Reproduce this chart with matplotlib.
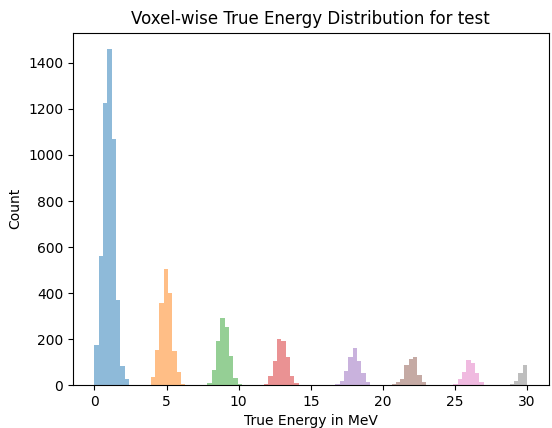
import matplotlib

matplotlib.use("Agg")
import matplotlib.pyplot as plt
import numpy as np

BIN_WIDTH = 0.3  # MeV, every cluster uses the same bin width

# left edge of the first bin of each energy cluster (MeV)
cluster_starts = [0.0, 3.9, 7.83, 11.45, 16.4, 20.6, 24.88, 28.8]

# counts per bin
cluster_counts = [
    [173, 563, 1228, 1459, 1070, 368, 84, 26, 3, 1],
    [36, 152, 357, 506, 402, 147, 57, 5, 2],
    [8, 65, 190, 293, 252, 126, 32, 7],
    [2, 4, 39, 104, 202, 190, 123, 41, 10],
    [2, 4, 20, 60, 121, 162, 103, 53, 12],
    [5, 14, 27, 87, 115, 123, 45, 14, 3],
    [4, 28, 58, 111, 97, 54, 14, 3],
    [6, 18, 53, 87],
]

fig, ax = plt.subplots(figsize=(5.52, 4.28), dpi=100)
fig.subplots_adjust(left=0.132, right=0.994, top=0.924, bottom=0.1)

for start, counts in zip(cluster_starts, cluster_counts):
    edges = start + BIN_WIDTH * np.arange(len(counts) + 1)
    ax.hist(edges[:-1], bins=edges, weights=counts, alpha=0.5)

ax.set_xlabel("True Energy in MeV")
ax.set_ylabel("Count")
ax.set_title("Voxel-wise True Energy Distribution for test")

fig.savefig("out.png", dpi=100)
